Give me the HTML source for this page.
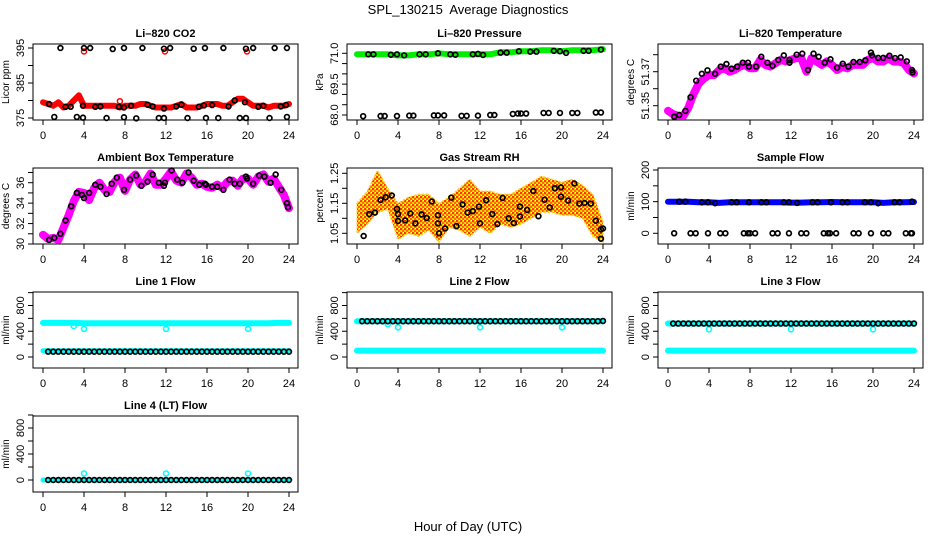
<!DOCTYPE html>
<html><head><meta charset="utf-8">
<style>
html,body{margin:0;padding:0;background:#fff;}
svg{display:block;font-family:"Liberation Sans",Arial,sans-serif;}
</style></head>
<body>
<svg id="chart" width="936" height="540" viewBox="0 0 936 540" xmlns="http://www.w3.org/2000/svg">
<defs>
<pattern id="rhpat" width="4" height="4" patternUnits="userSpaceOnUse">
<rect width="4" height="4" fill="#ffcc00"/>
<rect x="0" y="0" width="2" height="2" fill="#ff3300"/>
<rect x="2" y="2" width="2" height="2" fill="#ff6600"/>
<rect x="3" y="0" width="1" height="1" fill="#ffffff"/>
<rect x="1" y="3" width="1" height="1" fill="#ffff00"/>
</pattern>
</defs>
<text x="468" y="14" text-anchor="middle" font-size="13">SPL_130215&#160; Average Diagnostics</text>
<text x="468" y="531" text-anchor="middle" font-size="13">Hour of Day (UTC)</text>
</svg>
<script>
const HALF = [0,0.5,1,1.5,2,2.5,3,3.5,4,4.5,5,5.5,6,6.5,7,7.5,8,8.5,9,9.5,10,10.5,11,11.5,12,12.5,13,13.5,14,14.5,15,15.5,16,16.5,17,17.5,18,18.5,19,19.5,20,20.5,21,21.5,22,22.5,23,23.5,24];
const HOURS = [0,1,2,3,4,5,6,7,8,9,10,11,12,13,14,15,16,17,18,19,20,21,22,23,24];
const BLK_T = [0.5,1,1.5,2,2.5,3,3.5,4,4.5,5,5.5,6,6.5,7,7.5,8,8.5,9,9.5,10,10.5,11,11.5,12,12.5,13,13.5,14,14.5,15,15.5,16,16.5,17,17.5,18,18.5,19,19.5,20,20.5,21,21.5,22,22.5,23,23.5,24];
const X_TICKS = [0,4,8,12,16,20,24];

const co2Red = [379.5,379,378.5,379.5,378,378.5,380,381.5,378.5,378.5,378.5,378.5,378.5,378.5,378.5,378,378.5,378.5,378.5,379,379,378.5,378,378,378,378,378.5,379,378,378,378,378.5,379,379,379,378.5,378.5,379.5,380.5,380.5,379.5,378.5,378.5,378.5,378,378.5,378.5,378.5,379];
const co2BlkT = [1.7,4,4.6,6.8,7.9,9.7,11.8,12.4,14.7,15.8,17.6,19.8,20.5,22.6,23.8, 0.6,2.2,2.7,3.9,5.1,5.6,7.4,7.9,8.6,10.2,10.7,11.8,13,13.5,15.2,15.7,16.5,18.1,18.7,19.7,21,21.5,23.2,23.7, 1.1,3.3,3.9,6.2,7.9,9.1,11.3,11.8,14.1,15.9,17.1,19.2,19.8,22.1,23.8];
const co2BlkV = [395,395,395,394.7,395,395,394.8,395,394.8,395,395,394.8,395,395,395, 379,378.2,378.2,378.5,378.2,378.3,378.2,378,378.5,378.8,378.3,377.7,378.3,378.8,378.2,378.6,378.7,378.3,380,379.5,378.2,378.5,378.3,378.7, 375.3,375.3,375.1,375,375.2,374.9,375,375,375,375,375,375,375,375,375.3];
const co2RedOutT = [4,7.5,11.9,19.9];
const co2RedOutV = [394,379.8,394,394];

const presGreen = [70.95,70.95,70.95,70.95,70.9,70.9,70.95,70.95,71.0,70.95,70.95,70.95,70.95,70.95,71.05,71.05,71.1,71.1,71.15,71.15,71.1,71.15,71.15,71.15,71.2];
const presBlkT = [1.1,1.6,3.3,3.9,4.6,6.1,6.7,7.9,9.1,9.6,11.3,11.8,12.3,14,14.6,15.8,16.9,17.5,19.2,19.8,20.4,22.1,22.6,23.8, 0.6,2.3,2.7,3.9,5.1,5.5,7.5,7.9,8.5,10.2,10.7,11.8,13,13.4,15.2,15.7,16,16.5,18.2,18.7,19.8,21,21.5,23.3,23.8];
const presBlkV = [70.95,70.95,70.93,70.95,70.9,70.95,70.95,71.0,70.95,70.93,70.95,70.97,70.92,71.03,71.03,71.1,71.08,71.08,71.12,71.1,71.02,71.12,71.12,71.18, 67.94,67.95,67.95,67.95,67.97,67.97,67.98,67.98,67.98,67.96,67.96,67.97,68.0,68.0,68.05,68.07,68.07,68.07,68.1,68.1,68.1,68.1,68.1,68.12,68.12];

const ltMag = [51.347,51.345,51.344,51.344,51.349,51.357,51.363,51.366,51.368,51.368,51.371,51.372,51.370,51.371,51.373,51.374,51.372,51.372,51.377,51.374,51.373,51.375,51.377,51.376,51.377,51.378,51.378,51.370,51.378,51.376,51.374,51.376,51.374,51.371,51.373,51.372,51.374,51.374,51.374,51.377,51.378,51.376,51.376,51.378,51.376,51.376,51.375,51.371,51.369];
const ltBlkT = [0.6,1.1,1.7,2.2,2.75,3.3,3.85,4.6,5.15,5.7,6.2,6.75,7.3,7.8,7.9,8.6,9.1,9.7,10.2,10.75,11.3,11.85,11.85,12.55,13.1,13.65,14.2,14.7,15.3,15.85,16.5,17.05,17.6,18.1,18.7,19.25,19.8,19.9,20.5,21.0,21.6,22.15,22.7,23.3,23.8,23.85];
const ltBlkV = [51.3435,51.3445,51.3469,51.355,51.3647,51.3688,51.3708,51.3688,51.373,51.3745,51.3718,51.373,51.3753,51.3753,51.373,51.373,51.3788,51.3753,51.3735,51.3769,51.3796,51.3769,51.3753,51.38,51.3806,51.371,51.3806,51.3788,51.3753,51.3773,51.3724,51.3747,51.373,51.3757,51.3757,51.3767,51.3812,51.3796,51.3781,51.3781,51.3794,51.378,51.3784,51.3761,51.371,51.3696];

const abMag = [30.9,30.5,30.6,30.4,31.6,32.8,34.2,35.1,35,34.3,35.5,36,35.3,35.1,36.1,36.5,35.2,36.3,36.8,35.8,36.1,36.9,35.8,35.8,36.4,37.1,36.2,36,36.9,36.5,35.8,35.9,35.6,35.5,35.8,35.5,36.1,36.2,35.7,36.4,36.4,35.8,36.6,36.8,36.1,36.4,35.6,34.8,33.5];
const abBlkT = [0.6,1.1,1.7,2.2,2.75,3.3,3.8,4.0,4.5,5.1,5.6,6.2,6.7,7.2,7.9,8.5,9.1,9.6,10.2,10.7,11.3,11.9,11.8,12.55,13.1,13.6,14.2,14.7,15.25,15.8,15.9,16.5,17.0,17.6,18.2,18.7,19.2,19.8,19.9,20.5,21.1,21.6,22.2,22.7,23.25,23.8,23.9];
const abBlkV = [30.4,30.6,31.0,32.3,33.7,35.0,34.8,34.5,35.0,35.8,35.6,34.9,35.9,36.5,35.3,36.3,36.7,35.7,36.1,36.8,36.0,36.0,35.7,37.2,36.3,36.0,37.0,36.2,35.8,35.9,35.8,35.6,35.6,35.3,36.3,35.9,35.9,36.6,36.4,35.9,36.7,36.6,36.0,36.8,35.3,34.0,33.6];

const rhLo = [1.05,1.08,1.12,1.13,1.03,1.05,1.04,1.06,1.02,1.07,1.06,1.04,1.07,1.05,1.08,1.07,1.08,1.10,1.12,1.12,1.11,1.11,1.10,1.04,1.02];
const rhHi = [1.15,1.19,1.26,1.20,1.15,1.17,1.18,1.18,1.15,1.17,1.20,1.23,1.19,1.19,1.18,1.18,1.20,1.22,1.24,1.23,1.22,1.23,1.21,1.18,1.09];
const rhBlkT = [0.65,1.2,1.75,2.3,2.8,3.4,3.9,4.0,4.0,4.7,5.2,5.7,6.3,6.8,7.3,7.9,7.9,8.0,8.6,9.2,9.7,10.3,10.8,11.3,11.9,12.0,12.6,13.2,13.7,14.2,14.8,15.3,15.9,15.9,16.6,17.2,17.7,18.3,18.8,19.3,19.9,19.9,20.6,21.2,21.7,22.2,22.8,23.3,23.8,23.8,24];
const rhBlkV = [1.041,1.114,1.119,1.161,1.17,1.176,1.131,1.114,1.091,1.093,1.116,1.083,1.113,1.101,1.156,1.11,1.083,1.05,1.066,1.169,1.074,1.146,1.119,1.124,1.139,1.083,1.16,1.114,1.081,1.168,1.1,1.084,1.139,1.106,1.128,1.191,1.107,1.162,1.136,1.2,1.203,1.172,1.159,1.216,1.149,1.151,1.149,1.092,1.063,1.032,1.066];

const sfBlue = [100,100,100,98,98,96,98,98,98,98,98,98,97,97,98,98,99,98,98,98,98,96,98,98,99];
const sfBlkT = [1.1,1.7,3.3,3.9,4.6,6.2,6.7,7.9,9.1,9.6,11.3,11.8,12.6,14.1,14.6,15.9,17,17.5,19.2,19.8,20.5,22.1,22.6,23.8, 0.6,2.2,2.7,3.9,5.1,5.6,7.4,7.8,8,8.5,10.2,10.7,11.8,13,13.5,15.2,15.6,15.8,16.4,18.1,18.6,19.8,21,21.5,23.2,23.7,23.8];
const sfBlkV = [100,100,98,98,95,98,98,98,98,98,98,98,96,98,98,98,98,98,98,98,95,98,98,100, 0,0,0,0,0,0,0,0,0,0,0,0,0,0,0,0,0,0,0,0,0,0,0,0,0,0,0];

const l1CyanUp = [530,530,530,530,525,525,525,525,525,525,525,525,525,525,525,525,525,525,525,525,525,525,525,530,530];
const l1CyanLo = [98,98,98,98,98,98,98,98,98,98,98,98,98,98,98,98,98,98,98,98,98,98,98,98,98];
const l1Blk = [83,83,83,83,83,83,83,83,83,83,83,83,83,83,83,83,83,83,83,83,83,83,83,83,83,83,83,83,83,83,83,83,83,83,83,83,83,83,83,83,83,83,83,83,83,83,83,83];
const l1DipT = [3,4,12,20];
const l1DipV = [480,437,437,437];

const l2CyanUp = [556,556,556,556,556,556,556,556,556,556,556,556,556,556,556,556,556,556,556,556,556,556,556,556,556];
const l2CyanLo = [100,100,100,100,100,100,100,100,100,100,100,100,100,100,100,100,100,100,100,100,100,100,100,100,100];
const l2Blk = [556,556,556,556,556,556,556,556,556,556,556,556,556,556,556,556,556,556,556,556,556,556,556,556,556,556,556,556,556,556,556,556,556,556,556,556,556,556,556,556,556,556,556,556,556,556,556,560];
const l2DipT = [3,4,12,20];
const l2DipV = [510,460,460,460];

const l3CyanUp = [520,520,520,520,520,520,520,520,520,520,520,520,520,520,520,520,520,520,520,520,520,520,520,520,520];
const l3CyanLo = [100,100,100,100,100,100,100,100,100,100,100,100,100,100,100,100,100,100,100,100,100,100,100,100,100];
const l3Blk = [520,520,520,520,520,520,520,520,520,520,520,520,520,520,520,520,520,520,520,520,520,520,520,520,520,520,520,520,520,520,520,520,520,520,520,520,520,520,520,520,520,520,520,520,520,520,520,520];
const l3DipT = [4,12,20];
const l3DipV = [430,430,430];

const l4Cyan = [0,0,0,0,0,0,0,0,0,0,0,0,0,0,0,0,0,0,0,0,0,0,0,0,0];
const l4Blk = [0,0,0,0,0,0,0,0,0,0,0,0,0,0,0,0,0,0,0,0,0,0,0,0,0,0,0,0,0,0,0,0,0,0,0,0,0,0,0,0,0,0,0,0,0,0,0,0];
const l4DipT = [4,12,20];
const l4DipV = [100,100,100];

const NS = "http://www.w3.org/2000/svg";
const svg = document.getElementById('chart');
const COLL = [33,347,658], ROWT = [44,168,292,416], W = 265, H = 76;

function mk(tag, attrs, parent){
  const e = document.createElementNS(NS, tag);
  for (const k in attrs) e.setAttribute(k, attrs[k]);
  (parent||svg).appendChild(e);
  return e;
}

function makePanel(name, col, row, title, ylab, v1, o1, v2, o2, ticks, labels){
  const L = COLL[col], T = ROWT[row];
  const g = mk('g', {});
  
  
  const p = {g, L, T,
    x: t => L + 10 + t * 10.25,
    y: v => (T + o1) + (v - v1) * ((o2 - o1) / (v2 - v1))};
  const box = mk('rect', {x:L, y:T, width:W, height:H, fill:'none', stroke:'#000', 'stroke-width':1}, g);
  
  
  const tt = mk('text', {x:L + W/2, y:T - 7, 'text-anchor':'middle', 'font-size':11, 'font-weight':'bold'}, g);
  tt.textContent = title;
  
  
  const yl = mk('text', {transform:`translate(${L-24},${T+H/2}) rotate(-90)`, 'text-anchor':'middle', 'font-size':10}, g);
  yl.textContent = ylab;
  
  
  const xa = mk('g', {}, g);
  
  
  mk('line', {x1:p.x(0), x2:p.x(24), y1:T+H, y2:T+H, stroke:'#000'}, xa);
  X_TICKS.forEach(t => {
    mk('line', {x1:p.x(t), x2:p.x(t), y1:T+H, y2:T+H+5, stroke:'#000'}, xa);
    const lb = mk('text', {x:p.x(t), y:T+H+19, 'text-anchor':'middle', 'font-size':11}, xa);
    lb.textContent = t;
    
    
  });
  const ya = mk('g', {}, g);
  
  
  mk('line', {x1:L, x2:L, y1:p.y(ticks[0]), y2:p.y(ticks[ticks.length-1]), stroke:'#000'}, ya);
  ticks.forEach((v,i) => {
    mk('line', {x1:L-5, x2:L, y1:p.y(v), y2:p.y(v), stroke:'#000'}, ya);
    if (labels[i] !== '') {
      const lb = mk('text', {transform:`translate(${L-9},${p.y(v)}) rotate(-90)`, 'text-anchor':'middle', 'font-size':11}, ya);
      lb.textContent = labels[i];
      
      
    }
  });
  return p;
}

function band(p, name, ts, vs, color, w){
  const pts = ts.map((t,i) => p.x(t).toFixed(1) + ',' + p.y(vs[i]).toFixed(1)).join(' ');
  const pl = mk('polyline', {points:pts, fill:'none', stroke:color, 'stroke-width':w, 'stroke-linejoin':'round', 'stroke-linecap':'round'}, p.g);
  
  
}
function circles(p, name, ts, vs, color, r, sw){
  const g = mk('g', {}, p.g);
  
  
  ts.forEach((t,i) => {
    const c = mk('circle', {cx:p.x(t), cy:p.y(vs[i]), r:r, fill:'none', stroke:color, 'stroke-width':sw}, g);
    
    
  });
}

let p = makePanel('co2', 0, 0, 'Li\u2013820 CO2', 'Licor ppm', 375, 74, 395, 4, [375,380,385,390,395], ['375','','385','','395']);
band(p, 'co2-red-series', HALF, co2Red, '#ff0000', 6);
circles(p, 'co2-red-outliers', co2RedOutT, co2RedOutV, '#ff0000', 2.5, 1.5);
circles(p, 'co2-black-points', co2BlkT, co2BlkV, '#000', 2.4, 1.7);

p = makePanel('pressure', 1, 0, 'Li\u2013820 Pressure', 'kPa', 68, 71, 71, 9.3, [68,68.5,69,69.5,70,70.5,71], ['68.0','','','69.5','','','71.0']);
band(p, 'pressure-green-series', HOURS, presGreen, '#00ee00', 6);
circles(p, 'pressure-black-points', presBlkT, presBlkV, '#000', 2.4, 1.7);

p = makePanel('li820-temp', 2, 0, 'Li\u2013820 Temperature', 'degrees C', 51.35, 61.7, 51.37, 27.7, [51.35,51.36,51.37,51.38], ['51.35','','51.37','']);
band(p, 'li820-temp-magenta-series', HALF, ltMag, '#ff00ff', 8);
circles(p, 'li820-temp-black-points', ltBlkT, ltBlkV, '#000', 2.4, 1.7);

p = makePanel('ambient-temp', 0, 1, 'Ambient Box Temperature', 'degrees C', 30, 76, 36, 14.7, [30,31,32,33,34,35,36,37], ['30','','32','','34','','36','']);
band(p, 'ambient-temp-magenta-series', HALF, abMag, '#ff00ff', 8);
circles(p, 'ambient-temp-black-points', abBlkT, abBlkV, '#000', 2.4, 1.7);

p = makePanel('gas-rh', 1, 1, 'Gas Stream RH', 'percent', 1.05, 65.3, 1.25, 5.3, [1.05,1.10,1.15,1.20,1.25], ['1.05','','1.15','','1.25']);
{
  const up = HOURS.map((t,i) => p.x(t).toFixed(1) + ',' + p.y(rhHi[i]).toFixed(1));
  const dn = HOURS.map((t,i) => p.x(t).toFixed(1) + ',' + p.y(rhLo[i]).toFixed(1)).reverse();
  const poly = mk('polygon', {points:up.concat(dn).join(' '), fill:'url(#rhpat)', stroke:'#ffcc33', 'stroke-width':1.5, 'stroke-dasharray':'2 2', 'stroke-linejoin':'round'}, p.g);
  
  
}
circles(p, 'gas-rh-black-points', rhBlkT, rhBlkV, '#000', 2.4, 1.7);

p = makePanel('sample-flow', 2, 1, 'Sample Flow', 'ml/min', 0, 65.3, 200, 2, [0,50,100,150,200], ['0','','100','','200']);
band(p, 'sample-flow-blue-series', HOURS, sfBlue, '#0000ff', 6);
circles(p, 'sample-flow-black-points', sfBlkT, sfBlkV, '#000', 2.4, 1.7);

const FT = [0,200,400,600,800,1000], FL = ['0','','400','','800',''];
p = makePanel('line1-flow', 0, 2, 'Line 1 Flow', 'ml/min', 0, 65, 800, 13.5, FT, FL);
band(p, 'line1-cyan-upper', HOURS, l1CyanUp, '#00ffff', 6);
band(p, 'line1-cyan-lower', HOURS, l1CyanLo, '#00ffff', 5);
circles(p, 'line1-cyan-dips', l1DipT, l1DipV, '#00ffff', 2.5, 1.6);
circles(p, 'line1-black-points', BLK_T, l1Blk, '#000', 2.4, 1.7);

p = makePanel('line2-flow', 1, 2, 'Line 2 Flow', 'ml/min', 0, 65, 800, 13.5, FT, FL);
band(p, 'line2-cyan-upper', HOURS, l2CyanUp, '#00ffff', 6);
band(p, 'line2-cyan-lower', HOURS, l2CyanLo, '#00ffff', 6);
circles(p, 'line2-cyan-dips', l2DipT, l2DipV, '#00ffff', 2.5, 1.6);
circles(p, 'line2-black-points', BLK_T, l2Blk, '#000', 2.4, 1.7);

p = makePanel('line3-flow', 2, 2, 'Line 3 Flow', 'ml/min', 0, 65, 800, 13.5, FT, FL);
band(p, 'line3-cyan-upper', HOURS, l3CyanUp, '#00ffff', 6);
band(p, 'line3-cyan-lower', HOURS, l3CyanLo, '#00ffff', 6);
circles(p, 'line3-cyan-dips', l3DipT, l3DipV, '#00ffff', 2.5, 1.6);
circles(p, 'line3-black-points', BLK_T, l3Blk, '#000', 2.4, 1.7);

p = makePanel('line4-flow', 0, 3, 'Line 4 (LT) Flow', 'ml/min', 0, 64, 800, 12, FT, FL);
band(p, 'line4-cyan-series', HOURS, l4Cyan, '#00ffff', 5);
circles(p, 'line4-cyan-dips', l4DipT, l4DipV, '#00ffff', 2.5, 1.6);
circles(p, 'line4-black-points', BLK_T, l4Blk, '#000', 2.4, 1.7);
</script>
</body></html>
